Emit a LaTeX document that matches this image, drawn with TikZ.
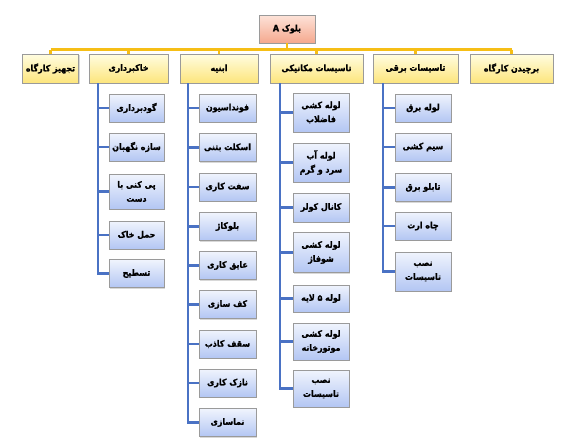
\documentclass[tikz,border=0pt]{standalone}
\usepackage{fontspec}
\newfontfamily\fa[Script=Arabic,FakeStretch=0.9,BoldFeatures={FakeBold=1.2}]{DejaVu Sans}
\TeXXeTstate=1
\usetikzlibrary{shadows}
\newcommand\fr[1]{\beginR #1\endR}
\definecolor{salmonTop}{HTML}{FDE3D9}
\definecolor{salmonBot}{HTML}{F5A88E}
\definecolor{yTop}{HTML}{FFFDE1}
\definecolor{yBot}{HTML}{FDE57C}
\definecolor{bTop}{HTML}{F0F4FD}
\definecolor{bBot}{HTML}{B3C6F3}
\definecolor{orangeLine}{HTML}{F6BE16}
\definecolor{blueLine}{HTML}{4A72C4}
\definecolor{boxBorder}{HTML}{9A9A9A}
\begin{document}
\begin{tikzpicture}[x=1pt,y=-1pt,
 box/.style={draw=boxBorder, rectangle, inner sep=0pt, line width=0.6pt,
   font=\fa\bfseries\fontsize{8.8}{14}\selectfont, align=center,
   drop shadow={shadow xshift=1.2pt,shadow yshift=-1.2pt,fill=black!30}},
 topbox/.style={box, top color=salmonTop, bottom color=salmonBot, minimum width=56pt, minimum height=28pt},
 lone/.style={box, top color=yTop, bottom color=yBot, minimum height=29pt},
 ch/.style={box, top color=bTop, bottom color=bBot, minimum width=56pt, minimum height=28pt},
 org/.style={draw=orangeLine, line width=2.3pt},
 blu/.style={draw=blueLine, line width=2.5pt}]
\useasboundingbox (0,0) rectangle (567,447);
\coordinate (bus) at (0,49.5);
\coordinate (vB) at (98,0);
\coordinate (vC) at (188,0);
\coordinate (vD) at (280,0);
\coordinate (vE) at (383,0);

\node[topbox] (top) at (287,29) {\fr{بلوک \beginL A\endL}};

\node[lone, minimum width=56pt] (t1) at (50.5,68.5) {\fr{تجهیز کارگاه}};
\node[lone, minimum width=79pt] (t2) at (128.5,68.5) {\fr{خاکبرداری}};
\node[lone, minimum width=78pt] (t3) at (219,68.5) {\fr{ابنیه}};
\node[lone, minimum width=93pt] (t4) at (316.5,68.5) {\fr{تاسیسات مکانیکی}};
\node[lone, minimum width=85pt] (t5) at (415.5,68.5) {\fr{تاسیسات برقی}};
\node[lone, minimum width=83pt] (t6) at (511.5,68.5) {\fr{برچیدن کارگاه}};

% خاکبرداری
\node[ch, minimum width=55pt] (b1) at (136.5,108) {\fr{گودبرداری}};
\node[ch, minimum width=55pt] (b2) at (136.5,147) {\fr{سازه نگهبان}};
\node[ch, minimum width=55pt, minimum height=35pt] (b3) at (136.5,191.5) {\fr{پی کنی با}\\\fr{دست}};
\node[ch, minimum width=55pt] (b4) at (136.5,235) {\fr{حمل خاک}};
\node[ch, minimum width=55pt] (b5) at (136.5,273.5) {\fr{تسطیح}};

% ابنیه
\node[ch, minimum width=57pt] (c1) at (227.5,108) {\fr{فونداسیون}};
\node[ch, minimum width=57pt] (c2) at (227.5,147.5) {\fr{اسکلت بتنی}};
\node[ch, minimum width=57pt] (c3) at (227.5,187) {\fr{سفت کاری}};
\node[ch, minimum width=57pt] (c4) at (227.5,226.5) {\fr{بلوکاژ}};
\node[ch, minimum width=57pt] (c5) at (227.5,265.5) {\fr{عایق کاری}};
\node[ch, minimum width=57pt] (c6) at (227.5,304.5) {\fr{کف سازی}};
\node[ch, minimum width=57pt] (c7) at (227.5,344) {\fr{سقف کاذب}};
\node[ch, minimum width=57pt] (c8) at (227.5,383) {\fr{نازک کاری}};
\node[ch, minimum width=57pt] (c9) at (227.5,422.5) {\fr{نماسازی}};

% تاسیسات مکانیکی
\node[ch, minimum height=39pt] (d1) at (321,112.5) {\fr{لوله کشی}\\\fr{فاضلاب}};
\node[ch, minimum height=39pt] (d2) at (321,162.5) {\fr{لوله آب}\\\fr{سرد و گرم}};
\node[ch, minimum height=29pt] (d3) at (321,207.5) {\fr{کانال کولر}};
\node[ch, minimum height=40pt] (d4) at (321,252.5) {\fr{لوله کشی}\\\fr{شوفاژ}};
\node[ch, minimum height=27pt] (d5) at (321,298.5) {\fr{لوله ۵ لایه}};
\node[ch, minimum height=37pt] (d6) at (321,341.5) {\fr{لوله کشی}\\\fr{موتورخانه}};
\node[ch, minimum height=37pt] (d7) at (321,388.5) {\fr{نصب}\\\fr{تاسیسات}};

% تاسیسات برقی
\node[ch] (e1) at (423,108) {\fr{لوله برق}};
\node[ch] (e2) at (423,147) {\fr{سیم کشی}};
\node[ch] (e3) at (423,187.5) {\fr{تابلو برق}};
\node[ch] (e4) at (423,226) {\fr{چاه ارت}};
\node[ch, minimum height=39pt] (e5) at (423,271.5) {\fr{نصب}\\\fr{تاسیسات}};

% orange connectors
\draw[org] (t1.north |- bus) -- (t6.north |- bus);
\draw[org] (top.south) -- (top.south |- bus);
\foreach \n in {t1,t2,t3,t4,t5,t6} \draw[org] (\n.north |- bus) -- (\n.north);

% blue connectors
\draw[blu] (t2.south -| vB) |- (b5.west);
\foreach \n in {b1,b2,b3,b4} \draw[blu] (\n.west -| vB) -- (\n.west);
\draw[blu] (t3.south -| vC) |- (c9.west);
\foreach \n in {c1,c2,c3,c4,c5,c6,c7,c8} \draw[blu] (\n.west -| vC) -- (\n.west);
\draw[blu] (t4.south -| vD) |- (d7.west);
\foreach \n in {d1,d2,d3,d4,d5,d6} \draw[blu] (\n.west -| vD) -- (\n.west);
\draw[blu] (t5.south -| vE) |- (e5.west);
\foreach \n in {e1,e2,e3,e4} \draw[blu] (\n.west -| vE) -- (\n.west);
\end{tikzpicture}
\end{document}
